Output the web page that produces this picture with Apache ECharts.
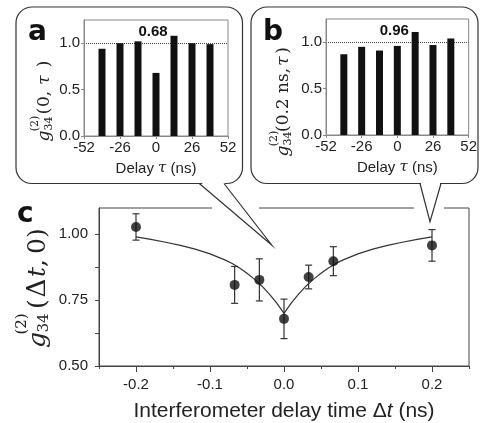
<!DOCTYPE html>
<html><head><meta charset="utf-8">
<script src="https://cdn.jsdelivr.net/npm/echarts@6/dist/echarts.min.js"></script>
<style>html,body{margin:0;padding:0;background:#fff}#c{width:480px;height:423px}</style>
</head><body><div id="c"></div>
<script>
// ---- data ----
const delayTau = [-39, -26, -13, 0, 13, 26, 39];
const gA = [0.94, 1.00, 1.02, 0.68, 1.08, 1.00, 0.99];
const gB = [0.87, 0.95, 0.91, 0.96, 1.11, 0.97, 1.04];
const insetYTicks = [0, 0.5, 1.0];
const dtX = [-0.2, -0.0667, -0.0333, 0, 0.0333, 0.0667, 0.2];
const gC = [1.028, 0.808, 0.827, 0.679, 0.838, 0.898, 0.958];
const errC = [0.05, 0.07, 0.08, 0.075, 0.045, 0.055, 0.06];
const fitX = [-0.2,-0.18,-0.16,-0.14,-0.12,-0.1,-0.08,-0.07,-0.06,-0.05,-0.04,-0.03,-0.02,-0.01,0,
              0.01,0.02,0.03,0.04,0.05,0.06,0.07,0.08,0.1,0.12,0.14,0.16,0.18,0.2];
const fitY = [0.990,0.981,0.970,0.958,0.944,0.926,0.903,0.889,0.872,0.852,0.830,0.804,0.774,0.740,0.700,
              0.740,0.774,0.804,0.830,0.852,0.872,0.889,0.903,0.926,0.944,0.958,0.970,0.981,0.990];
const mainXTicks = [-0.2, -0.1, 0, 0.1, 0.2];
const mainYTicks = [0.5, 0.75, 1.0];
const mainYTickMarks = [0.5, 0.625, 0.75, 0.875, 1.0];

// ---- styles ----
const SANS = '"Liberation Sans", Arial, sans-serif';
const SERIF = '"DejaVu Serif", serif';
const TXT = '#222';

function insetX(grid) {
  return {
    type: 'value', gridIndex: grid, min: -52, max: 52, interval: 26, z: 5,
    axisLine: { show: true, onZero: false, lineStyle: { color: '#888', width: 1 } },
    axisTick: { show: true, length: 3, lineStyle: { color: '#888' } },
    axisLabel: { color: TXT, fontFamily: SANS, fontSize: 15, margin: 4 },
    splitLine: { show: false },
    name: '{a|Delay }{t|τ}{a| (ns)}', nameLocation: 'middle', nameGap: 25,
    nameTextStyle: { rich: {
      a: { fontFamily: SANS, fontSize: 15, color: TXT },
      t: { fontFamily: SERIF, fontStyle: 'italic', fontSize: 15, color: TXT } } }
  };
}
function insetY(grid) {
  return {
    type: 'value', gridIndex: grid, min: 0, max: 1.25, z: 5,
    axisLine: { show: true, onZero: false, lineStyle: { color: '#888', width: 1 } },
    axisTick: { show: true, length: 3, customValues: insetYTicks, lineStyle: { color: '#888' } },
    axisLabel: { customValues: insetYTicks, formatter: v => v.toFixed(1), color: TXT, fontFamily: SANS, fontSize: 15, margin: 4 },
    splitLine: { show: false }
  };
}
function barSeries(xi, yi, vals) {
  return {
    type: 'bar', xAxisIndex: xi, yAxisIndex: yi, z: 5,
    data: delayTau.map((t, i) => [t, vals[i]]),
    barWidth: 7, itemStyle: { color: '#111' },
    markLine: { silent: true, symbol: ['none', 'none'], data: [{ yAxis: 1 }],
      lineStyle: { type: 'dotted', color: '#444', width: 1 }, label: { show: false } },
    markPoint: { silent: true, symbol: 'rect', symbolSize: 1, itemStyle: { color: 'rgba(0,0,0,0)' },
      data: [{ coord: [0, 1.12], value: vals[delayTau.indexOf(0)] }],
      label: { show: true, position: 'inside', offset: [-3, 0], formatter: p => p.value.toFixed(2),
        fontFamily: SANS, fontWeight: 'bold', fontSize: 15, color: '#111' } }
  };
}
// math label built from glyph pieces placed along the (rotated) text direction
function mathLabel(x, y, pieces) {
  return {
    type: 'group', x: x, y: y, rotation: Math.PI / 2, z: 20,
    children: pieces.map(p => ({
      type: 'text', x: p[1], y: p[2] || 0,
      style: { text: p[0], font: (p[4] ? 'italic ' : '') + p[3] + 'px ' + SERIF, fill: TXT,
               align: p[5] || 'center', verticalAlign: 'middle' } }))
  };
}
function letter(t, x, y) {
  return { type: 'text', x: x, y: y, z: 20, style: { text: t, font: 'bold 28px "DejaVu Sans"', fill: '#111', verticalAlign: 'middle', align: 'left' } };
}

const option = {
  animation: false,
  backgroundColor: '#fff',
  grid: [
    { left: 99, right: 11, top: 208, bottom: 57, show: true, borderColor: '#444', borderWidth: 1, containLabel: false },
    { left: 84, right: 252, top: 20, bottom: 287, show: true, borderColor: '#888', borderWidth: 1, containLabel: false },
    { left: 326, right: 10, top: 19, bottom: 288, show: true, borderColor: '#888', borderWidth: 1, containLabel: false }
  ],
  xAxis: [
    { type: 'value', gridIndex: 0, min: -0.25, max: 0.25, interval: 0.05, position: 'bottom',
      axisLine: { onZero: false, lineStyle: { color: '#444' } }, axisTick: { length: 3, lineStyle: { color: '#444' } },
      axisLabel: { show: false }, splitLine: { show: false } },
    { type: 'value', gridIndex: 0, min: -0.25, max: 0.25, position: 'bottom',
      axisLine: { show: false, onZero: false },
      axisTick: { show: true, length: 6, customValues: mainXTicks, lineStyle: { color: '#444' } },
      axisLabel: { customValues: mainXTicks, formatter: v => v.toFixed(1), color: TXT, fontFamily: SANS, fontSize: 15, margin: 11 },
      splitLine: { show: false },
      name: '{a|Interferometer delay time Δ}{i|t}{a| (ns)}', nameLocation: 'middle', nameGap: 35,
      nameTextStyle: { rich: {
        a: { fontFamily: SANS, fontSize: 21, color: TXT },
        i: { fontFamily: SANS, fontSize: 21, fontStyle: 'italic', color: TXT } } } },
    insetX(1), insetX(2)
  ],
  yAxis: [
    { type: 'value', gridIndex: 0, min: 0.5, max: 1.1, interval: 0.125,
      axisLine: { show: true, onZero: false, lineStyle: { color: '#444' } },
      axisTick: { show: true, length: 4, customValues: mainYTickMarks, lineStyle: { color: '#444' } },
      axisLabel: { customValues: mainYTicks, formatter: v => v.toFixed(2), color: TXT, fontFamily: SANS, fontSize: 15, margin: 11 },
      splitLine: { show: false } },
    insetY(1), insetY(2)
  ],
  series: [
    barSeries(2, 1, gA),
    barSeries(3, 2, gB),
    { type: 'line', xAxisIndex: 0, yAxisIndex: 0, data: fitX.map((x, i) => [x, fitY[i]]),
      showSymbol: false, symbol: 'none', lineStyle: { color: '#333', width: 1.2 }, z: 3 },
    { type: 'custom', xAxisIndex: 0, yAxisIndex: 0, z: 4,
      data: dtX.map((x, i) => [x, gC[i], errC[i]]),
      renderItem: (params, api) => {
        const x = api.value(0), y = api.value(1), e = api.value(2);
        const t = api.coord([x, y + e]), b = api.coord([x, y - e]);
        const hw = 3.5, st = { stroke: '#333', lineWidth: 1.2 };
        return { type: 'group', children: [
          { type: 'line', shape: { x1: t[0], y1: t[1], x2: b[0], y2: b[1] }, style: st },
          { type: 'line', shape: { x1: t[0] - hw, y1: t[1], x2: t[0] + hw, y2: t[1] }, style: st },
          { type: 'line', shape: { x1: b[0] - hw, y1: b[1], x2: b[0] + hw, y2: b[1] }, style: st } ] };
      } },
    { type: 'scatter', xAxisIndex: 0, yAxisIndex: 0, z: 6, symbolSize: 10,
      data: dtX.map((x, i) => [x, gC[i]]), itemStyle: { color: '#111' } }
  ],
  graphic: [
    { type: 'rect', z: 1, shape: { x: 16, y: 7, width: 226.5, height: 176.5, r: 16 }, style: { fill: 'none', stroke: '#333', lineWidth: 1.2 } },
    { type: 'rect', z: 1, shape: { x: 251, y: 7, width: 227, height: 176.5, r: 16 }, style: { fill: 'none', stroke: '#333', lineWidth: 1.2 } },
    { type: 'rect', z: 10, shape: { x: 212, y: 203, width: 47, height: 10 }, style: { fill: '#fff' } },
    { type: 'rect', z: 10, shape: { x: 414, y: 203, width: 30, height: 10 }, style: { fill: '#fff' } },
    { type: 'polygon', z: 10, shape: { points: [[200, 181.5], [223.5, 181.5], [271.7, 245]] }, style: { fill: '#fff' } },
    { type: 'polygon', z: 10, shape: { points: [[420.5, 181.5], [440.5, 181.5], [430, 221.7]] }, style: { fill: '#fff' } },
    { type: 'polyline', z: 11, shape: { points: [[199.3, 183.5], [271.7, 245], [224, 183.5]] }, style: { fill: 'none', stroke: '#333', lineWidth: 1.2 } },
    { type: 'polyline', z: 11, shape: { points: [[420, 183.5], [430, 221.7], [441, 183.5]] }, style: { fill: 'none', stroke: '#333', lineWidth: 1.2 } },
    letter('a', 28, 33),
    letter('b', 263, 33),
    letter('c', 17, 215),
    // [text, u, v, size, italic]
    mathLabel(38, 347, [
      ['g', 7, 0, 25, true], ['(2)', 23, -16, 15], ['34', 24, 6.5, 15],
      ['(', 43, 0, 25], ['Δ', 59, 0, 26], ['t', 75, 0, 25, true], [',', 84, 0, 25],
      ['0', 101, 0, 25], [')', 114, 0, 25]
    ]),
    mathLabel(45, 142, [
      ['g', 6, 0, 17, true], ['(2)', 18.5, -10, 11], ['34', 18.5, 4, 11],
      ['(', 31, 0, 17], ['0', 40.5, 0, 17], [',', 48.5, 0, 17], ['τ', 62, 0, 17, true], [')', 78, 0, 17]
    ]),
    mathLabel(284, 157, [
      ['g', 6, 0, 17, true], ['(2)', 18.5, -10, 11], ['34', 18.5, 4, 11],
      ['(0.2 ns,', 25, 0, 17, false, 'left'], ['τ', 96, 0, 17, true], [')', 106.5, 0, 17]
    ])
  ]
};
const chart = echarts.init(document.getElementById('c'), null, { renderer: 'canvas' });
chart.setOption(option);
</script></body></html>
